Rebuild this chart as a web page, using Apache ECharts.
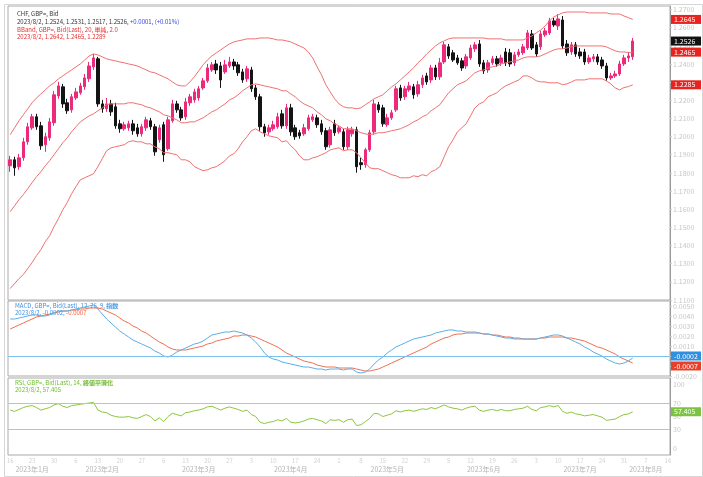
<!DOCTYPE html>
<html><head><meta charset="utf-8">
<script src="https://cdn.jsdelivr.net/npm/echarts/dist/echarts.min.js"></script>
<style>html,body{margin:0;padding:0;background:#fff}#c{width:703px;height:477px}</style>
</head><body><div id="c"></div>
<script>
const opens=[1.1839,1.1872,1.1834,1.1883,1.1971,1.2048,1.2109,1.2059,1.1955,1.1993,
1.2076,1.2224,1.2274,1.2186,1.2147,1.2213,1.2241,1.2274,1.2318,1.2384,
1.2428,1.2180,1.2153,1.2180,1.2164,1.2070,1.2043,1.2048,1.2070,1.2048,
1.2015,1.2048,1.2087,1.2054,1.1982,1.2065,1.1933,1.2087,1.2180,1.2147,
1.2109,1.2186,1.2202,1.2213,1.2268,1.2307,1.2367,1.2400,1.2389,1.2356,
1.2389,1.2411,1.2395,1.2356,1.2318,1.2367,1.2268,1.2219,1.2054,1.2026,
1.2043,1.2054,1.2125,1.2059,1.2158,1.2048,1.2021,1.2015,1.2043,1.2092,
1.2103,1.2070,1.2032,1.1955,1.2070,1.2026,1.2026,1.1944,1.2015,1.2037,
1.1856,1.1845,1.1927,1.2026,1.2175,1.2158,1.2065,1.2103,1.2147,1.2268,
1.2219,1.2257,1.2274,1.2235,1.2285,1.2334,1.2312,1.2378,1.2329,1.2411,
1.2494,1.2461,1.2433,1.2417,1.2389,1.2433,1.2483,1.2510,1.2406,1.2367,
1.2406,1.2428,1.2406,1.2466,1.2461,1.2406,1.2450,1.2461,1.2488,1.2565,
1.2505,1.2494,1.2560,1.2571,1.2637,1.2609,1.2642,1.2510,1.2466,1.2505,
1.2466,1.2466,1.2411,1.2428,1.2439,1.2422,1.2389,1.2323,1.2334,1.2345,
1.2400,1.2433,1.2439];
const closes=[1.1872,1.1828,1.1883,1.1971,1.2054,1.2109,1.2054,1.1949,1.1999,1.2081,
1.2230,1.2279,1.2180,1.2142,1.2219,1.2246,1.2279,1.2323,1.2389,1.2433,
1.2180,1.2153,1.2180,1.2136,1.2059,1.2043,1.2065,1.2070,1.2032,1.2015,
1.2054,1.2092,1.2054,1.1916,1.2048,1.1900,1.2092,1.2180,1.2147,1.2103,
1.2191,1.2219,1.2246,1.2263,1.2307,1.2378,1.2395,1.2367,1.2312,1.2395,
1.2411,1.2389,1.2351,1.2312,1.2373,1.2263,1.2219,1.2054,1.2021,1.2048,
1.2065,1.2109,1.2059,1.2158,1.2026,1.1999,1.2004,1.2048,1.2103,1.2109,
1.2065,1.2026,1.1944,1.2037,1.2021,1.2048,1.1944,1.2037,1.2037,1.1834,
1.1845,1.1927,1.2021,1.2180,1.2147,1.2070,1.2103,1.2131,1.2263,1.2213,
1.2263,1.2279,1.2230,1.2285,1.2323,1.2301,1.2378,1.2329,1.2406,1.2505,
1.2444,1.2422,1.2406,1.2378,1.2439,1.2488,1.2505,1.2400,1.2362,1.2406,
1.2428,1.2400,1.2433,1.2406,1.2400,1.2450,1.2466,1.2494,1.2571,1.2488,
1.2455,1.2565,1.2582,1.2637,1.2615,1.2648,1.2499,1.2461,1.2505,1.2455,
1.2444,1.2411,1.2433,1.2439,1.2411,1.2389,1.2323,1.2334,1.2345,1.2400,
1.2433,1.2444,1.2526];
const highs=[1.1894,1.1889,1.1905,1.1993,1.2076,1.2125,1.2125,1.2081,1.2021,1.2103,
1.2252,1.2301,1.2290,1.2208,1.2235,1.2268,1.2296,1.2345,1.2411,1.2455,
1.2439,1.2202,1.2213,1.2202,1.2186,1.2092,1.2081,1.2087,1.2092,1.2070,
1.2070,1.2109,1.2103,1.2070,1.2065,1.2081,1.2109,1.2202,1.2197,1.2164,
1.2213,1.2235,1.2263,1.2279,1.2323,1.2400,1.2411,1.2422,1.2411,1.2422,
1.2439,1.2428,1.2411,1.2373,1.2389,1.2384,1.2285,1.2235,1.2070,1.2065,
1.2087,1.2131,1.2147,1.2180,1.2180,1.2065,1.2037,1.2070,1.2120,1.2125,
1.2120,1.2092,1.2048,1.2054,1.2092,1.2059,1.2043,1.2054,1.2054,1.2054,
1.1883,1.1938,1.2037,1.2202,1.2191,1.2175,1.2125,1.2147,1.2279,1.2285,
1.2279,1.2301,1.2290,1.2307,1.2340,1.2351,1.2395,1.2395,1.2433,1.2521,
1.2510,1.2477,1.2450,1.2433,1.2455,1.2505,1.2521,1.2532,1.2422,1.2422,
1.2444,1.2444,1.2450,1.2488,1.2483,1.2466,1.2483,1.2510,1.2587,1.2587,
1.2521,1.2582,1.2598,1.2653,1.2653,1.2675,1.2664,1.2532,1.2521,1.2521,
1.2488,1.2483,1.2450,1.2455,1.2455,1.2439,1.2406,1.2351,1.2362,1.2417,
1.2450,1.2466,1.2543];
const lows=[1.1806,1.1784,1.1817,1.1867,1.1955,1.2037,1.2037,1.1927,1.1916,1.1977,
1.2059,1.2208,1.2158,1.2125,1.2131,1.2202,1.2230,1.2257,1.2301,1.2367,
1.2164,1.2131,1.2136,1.2114,1.2043,1.2021,1.2032,1.2032,1.2010,1.1999,
1.1999,1.2032,1.2037,1.1894,1.1966,1.1861,1.1922,1.2076,1.2131,1.2087,
1.2092,1.2169,1.2186,1.2197,1.2257,1.2296,1.2356,1.2345,1.2268,1.2345,
1.2378,1.2367,1.2334,1.2296,1.2301,1.2246,1.2202,1.2032,1.1999,1.2010,
1.2032,1.2043,1.2043,1.2043,1.2004,1.1982,1.1988,1.2004,1.2032,1.2081,
1.2048,1.2010,1.1927,1.1938,1.2004,1.2015,1.1927,1.1927,1.1999,1.1801,
1.1817,1.1828,1.1916,1.2010,1.2131,1.2054,1.2054,1.2092,1.2136,1.2197,
1.2202,1.2246,1.2208,1.2219,1.2268,1.2285,1.2296,1.2312,1.2312,1.2400,
1.2428,1.2411,1.2395,1.2362,1.2373,1.2422,1.2466,1.2384,1.2345,1.2351,
1.2395,1.2384,1.2389,1.2389,1.2384,1.2389,1.2439,1.2450,1.2477,1.2477,
1.2439,1.2477,1.2549,1.2560,1.2604,1.2587,1.2483,1.2444,1.2450,1.2439,
1.2428,1.2395,1.2400,1.2411,1.2395,1.2373,1.2307,1.2312,1.2323,1.2334,
1.2389,1.2411,1.2422];
const bbUpper=[1.2010,1.2048,1.2087,1.2120,1.2153,1.2186,1.2213,1.2235,1.2257,1.2279,
1.2296,1.2318,1.2334,1.2351,1.2367,1.2384,1.2400,1.2422,1.2444,1.2455,
1.2450,1.2439,1.2428,1.2422,1.2417,1.2411,1.2406,1.2400,1.2395,1.2389,
1.2378,1.2367,1.2356,1.2351,1.2340,1.2329,1.2318,1.2301,1.2285,1.2279,
1.2279,1.2301,1.2329,1.2362,1.2395,1.2422,1.2444,1.2461,1.2477,1.2494,
1.2510,1.2521,1.2527,1.2532,1.2538,1.2538,1.2538,1.2543,1.2543,1.2543,
1.2538,1.2532,1.2532,1.2527,1.2521,1.2510,1.2499,1.2488,1.2466,1.2433,
1.2384,1.2340,1.2285,1.2246,1.2208,1.2180,1.2164,1.2158,1.2158,1.2153,
1.2158,1.2175,1.2191,1.2208,1.2219,1.2230,1.2252,1.2274,1.2290,1.2312,
1.2334,1.2356,1.2378,1.2406,1.2428,1.2455,1.2477,1.2499,1.2516,1.2527,
1.2538,1.2543,1.2543,1.2543,1.2543,1.2543,1.2543,1.2543,1.2543,1.2538,
1.2538,1.2538,1.2538,1.2532,1.2532,1.2532,1.2532,1.2532,1.2543,1.2554,
1.2571,1.2587,1.2609,1.2637,1.2659,1.2670,1.2681,1.2686,1.2686,1.2686,
1.2686,1.2686,1.2681,1.2681,1.2681,1.2681,1.2681,1.2675,1.2675,1.2675,
1.2664,1.2655,1.2645];
const bbMiddle=[1.1586,1.1619,1.1652,1.1680,1.1713,1.1746,1.1779,1.1806,1.1839,1.1867,
1.1900,1.1933,1.1966,1.1993,1.2026,1.2054,1.2081,1.2098,1.2114,1.2125,
1.2142,1.2158,1.2175,1.2180,1.2180,1.2180,1.2180,1.2186,1.2186,1.2180,
1.2175,1.2164,1.2158,1.2147,1.2136,1.2120,1.2114,1.2103,1.2092,1.2076,
1.2076,1.2081,1.2081,1.2092,1.2103,1.2120,1.2136,1.2147,1.2164,1.2180,
1.2202,1.2213,1.2230,1.2252,1.2268,1.2285,1.2290,1.2285,1.2279,1.2274,
1.2268,1.2263,1.2252,1.2252,1.2235,1.2219,1.2197,1.2180,1.2169,1.2158,
1.2136,1.2120,1.2098,1.2087,1.2070,1.2059,1.2043,1.2043,1.2043,1.2032,
1.2021,1.2015,1.2010,1.2015,1.2021,1.2021,1.2026,1.2032,1.2037,1.2043,
1.2054,1.2065,1.2081,1.2092,1.2109,1.2120,1.2142,1.2158,1.2175,1.2208,
1.2241,1.2263,1.2285,1.2296,1.2307,1.2329,1.2351,1.2362,1.2367,1.2378,
1.2384,1.2389,1.2400,1.2406,1.2411,1.2417,1.2422,1.2433,1.2439,1.2439,
1.2439,1.2444,1.2455,1.2466,1.2477,1.2483,1.2483,1.2488,1.2494,1.2499,
1.2499,1.2499,1.2499,1.2499,1.2499,1.2499,1.2494,1.2483,1.2472,1.2466,
1.2466,1.2463,1.2465];
const bbLower=[1.1163,1.1190,1.1218,1.1240,1.1273,1.1306,1.1344,1.1377,1.1421,1.1454,
1.1504,1.1548,1.1597,1.1636,1.1685,1.1724,1.1762,1.1773,1.1784,1.1795,
1.1834,1.1878,1.1922,1.1938,1.1944,1.1949,1.1955,1.1971,1.1977,1.1971,
1.1971,1.1960,1.1960,1.1944,1.1933,1.1911,1.1911,1.1905,1.1900,1.1872,
1.1872,1.1861,1.1834,1.1823,1.1812,1.1817,1.1828,1.1834,1.1850,1.1867,
1.1894,1.1905,1.1933,1.1971,1.1999,1.2032,1.2043,1.2026,1.2015,1.2004,
1.1999,1.1993,1.1971,1.1977,1.1949,1.1927,1.1894,1.1872,1.1872,1.1883,
1.1889,1.1900,1.1911,1.1927,1.1933,1.1938,1.1922,1.1927,1.1927,1.1911,
1.1883,1.1856,1.1828,1.1823,1.1823,1.1812,1.1801,1.1790,1.1784,1.1773,
1.1773,1.1773,1.1784,1.1779,1.1790,1.1784,1.1806,1.1817,1.1834,1.1889,
1.1944,1.1982,1.2026,1.2048,1.2070,1.2114,1.2158,1.2180,1.2191,1.2219,
1.2230,1.2241,1.2263,1.2279,1.2290,1.2301,1.2312,1.2334,1.2334,1.2323,
1.2307,1.2301,1.2301,1.2296,1.2296,1.2296,1.2285,1.2290,1.2301,1.2312,
1.2312,1.2312,1.2318,1.2318,1.2318,1.2318,1.2307,1.2290,1.2268,1.2257,
1.2270,1.2275,1.2285];
const macdLine=[0.0037,0.0037,0.0038,0.0039,0.0040,0.0041,0.0041,0.0040,0.0040,0.0041,
0.0043,0.0045,0.0045,0.0045,0.0046,0.0047,0.0048,0.0049,0.0050,0.0051,
0.0047,0.0042,0.0037,0.0033,0.0029,0.0025,0.0022,0.0019,0.0016,0.0014,
0.0012,0.0010,0.0008,0.0005,0.0003,0.0000,-0.0001,0.0001,0.0004,0.0006,
0.0008,0.0010,0.0012,0.0013,0.0015,0.0018,0.0021,0.0022,0.0023,0.0024,
0.0024,0.0025,0.0024,0.0023,0.0021,0.0018,0.0014,0.0009,0.0003,-0.0001,
-0.0003,-0.0004,-0.0006,-0.0007,-0.0008,-0.0009,-0.0010,-0.0011,-0.0011,-0.0012,
-0.0013,-0.0013,-0.0014,-0.0013,-0.0013,-0.0013,-0.0014,-0.0013,-0.0013,-0.0016,
-0.0017,-0.0016,-0.0013,-0.0008,-0.0004,-0.0001,0.0003,0.0006,0.0009,0.0011,
0.0013,0.0015,0.0017,0.0018,0.0019,0.0020,0.0021,0.0023,0.0024,0.0025,
0.0026,0.0026,0.0025,0.0025,0.0024,0.0024,0.0024,0.0023,0.0022,0.0022,
0.0021,0.0020,0.0019,0.0018,0.0018,0.0017,0.0017,0.0017,0.0017,0.0017,
0.0017,0.0018,0.0019,0.0020,0.0021,0.0021,0.0020,0.0018,0.0016,0.0014,
0.0012,0.0009,0.0007,0.0004,0.0002,0.0000,-0.0003,-0.0005,-0.0007,-0.0008,
-0.0007,-0.0005,-0.0002];
const macdSignal=[0.0027,0.0029,0.0031,0.0033,0.0035,0.0037,0.0039,0.0040,0.0041,0.0042,
0.0043,0.0044,0.0045,0.0045,0.0046,0.0046,0.0047,0.0047,0.0048,0.0048,
0.0048,0.0047,0.0045,0.0043,0.0041,0.0038,0.0035,0.0033,0.0030,0.0028,
0.0025,0.0023,0.0020,0.0017,0.0014,0.0012,0.0009,0.0007,0.0006,0.0006,
0.0006,0.0007,0.0008,0.0009,0.0010,0.0012,0.0013,0.0015,0.0016,0.0017,
0.0018,0.0020,0.0020,0.0021,0.0021,0.0020,0.0019,0.0017,0.0015,0.0013,
0.0011,0.0009,0.0006,0.0003,0.0001,-0.0001,-0.0003,-0.0005,-0.0006,-0.0007,
-0.0009,-0.0010,-0.0011,-0.0011,-0.0011,-0.0012,-0.0012,-0.0012,-0.0012,-0.0013,
-0.0014,-0.0015,-0.0015,-0.0014,-0.0013,-0.0011,-0.0009,-0.0007,-0.0005,-0.0003,
-0.0001,0.0001,0.0003,0.0005,0.0007,0.0009,0.0012,0.0014,0.0016,0.0018,
0.0019,0.0021,0.0022,0.0022,0.0023,0.0023,0.0023,0.0023,0.0022,0.0022,
0.0021,0.0021,0.0020,0.0019,0.0019,0.0018,0.0018,0.0017,0.0017,0.0017,
0.0017,0.0018,0.0018,0.0019,0.0019,0.0019,0.0019,0.0018,0.0018,0.0017,
0.0016,0.0015,0.0013,0.0011,0.0009,0.0008,0.0006,0.0004,0.0002,-0.0001,
-0.0003,-0.0005,-0.0007];
const rsi=[60,58,61,64,66,67,64,60,62,64,
68,70,66,64,67,68,69,70,71,72,
60,57,56,52,50,49,49,50,48,47,
50,53,50,43,48,42,50,55,53,51,
56,57,59,60,62,65,66,63,60,63,
65,63,61,58,60,53,50,41,39,41,
42,45,43,47,41,40,41,43,46,47,
45,43,39,45,44,45,41,45,46,36,
37,42,47,55,54,50,52,54,59,57,
59,60,58,60,62,61,64,62,65,68,
65,63,62,60,63,65,66,60,58,60,
61,59,61,59,59,61,62,63,66,61,
59,64,65,67,65,67,58,55,57,54,
53,51,52,53,51,49,44,45,46,50,
53,54,57.405];
const rsiLevels=[70,30];
const firstDate=[2023,0,16];
const blankBars=8;

// trading-day categories (weekdays)
const cats=[];
{const d=new Date(Date.UTC(firstDate[0],firstDate[1],firstDate[2]));
 while(cats.length<opens.length+blankBars){const wd=d.getUTCDay(); if(wd!==0&&wd!==6) cats.push(d.toISOString().slice(0,10)); d.setUTCDate(d.getUTCDate()+1);}}
const monthCenters=new Set();
{let s=0; for(let i=1;i<=cats.length;i++){ if(i===cats.length||cats[i].slice(0,7)!==cats[s].slice(0,7)){monthCenters.add(Math.floor((s+i-1)/2)); s=i;} }}

const N=opens.length, last=N-1;
const FF='"Noto Sans CJK JP","Noto Sans",sans-serif';
const candles=opens.map((o,i)=>[o,closes[i],lows[i],highs[i]]);
const PINK='#ec2a7c', BB='#f07070', BLUE='#5aaee8', ORANGE='#f07050', GREEN='#8cc63f';

function box(val,bg,digits,shift){
  return {silent:true,symbol:['none','none'],animation:false,precision:digits,
    lineStyle:{color:'rgba(255,255,255,0)',width:0,opacity:1},
    emphasis:{disabled:true},
    label:{show:true,position:'end',distance:1,formatter:p=>Number(p.value).toFixed(digits),
      backgroundColor:bg,color:'#fff',fontSize:7,fontFamily:FF,padding:[1,3],width:24,opacity:1,offset:[0,shift||0]},
    data:[{yAxis:val}]};
}
const hiddenX=(g)=>({type:'category',gridIndex:g,data:cats,boundaryGap:true,
  axisLine:{show:false},axisTick:{show:false},axisLabel:{show:false},splitLine:{show:false}});
const yLab={fontSize:7,color:'#c6c6c6',margin:3,fontFamily:FF};

const chart=echarts.init(document.getElementById('c'),null,{renderer:'canvas'});
chart.setOption({
  animation:false,
  backgroundColor:'#fff',
  grid:[
    {left:8,right:33,top:6,height:294,show:true,borderColor:'#aaa',borderWidth:1},
    {left:8,right:33,top:301,height:75,show:true,borderColor:'#aaa',borderWidth:1},
    {left:8,right:33,top:378,height:77,show:true,borderColor:'#aaa',borderWidth:1}
  ],
  xAxis:[hiddenX(0),hiddenX(1),
    {type:'category',gridIndex:2,data:cats,boundaryGap:true,axisLine:{show:false},axisTick:{show:false},splitLine:{show:false},
     axisLabel:{fontSize:6,color:'#d2d2d2',margin:3,fontFamily:FF,
       interval:(i,v)=>new Date(v+'T00:00:00Z').getUTCDay()===1,formatter:v=>String(+v.slice(8,10))}},
    {type:'category',gridIndex:2,data:cats,boundaryGap:true,position:'bottom',axisLine:{show:false},axisTick:{show:false},splitLine:{show:false},
     axisLabel:{fontSize:7,color:'#b4b4b4',margin:11,fontFamily:FF,
       interval:(i)=>monthCenters.has(i),formatter:v=>v.slice(0,4)+'年'+(+v.slice(5,7))+'月'}}
  ],
  yAxis:[
    {type:'value',gridIndex:0,position:'right',min:1.11,max:1.2719,interval:0.01,
     axisLine:{show:true,lineStyle:{color:'#999'}},axisTick:{show:true,length:2,lineStyle:{color:'#ccc'}},
     splitLine:{show:false},axisLabel:Object.assign({formatter:v=>v.toFixed(4),showMaxLabel:false},yLab)},
    {type:'value',gridIndex:1,position:'right',min:-0.002,max:0.0055,interval:0.001,
     axisLine:{show:true,lineStyle:{color:'#999'}},axisTick:{show:true,length:2,lineStyle:{color:'#ccc'}},
     splitLine:{show:false},axisLabel:Object.assign({formatter:v=>v.toFixed(4),showMaxLabel:false},yLab)},
    {type:'value',gridIndex:2,position:'right',min:-10,max:110,interval:10,
     axisLine:{show:true,lineStyle:{color:'#999'}},axisTick:{show:false},
     splitLine:{show:false},axisLabel:Object.assign({formatter:v=>([0,30,50,70,100].includes(v)?String(v):'')},yLab)}
  ],
  graphic:[
    {type:'rect',left:2,top:2,shape:{width:698,height:472},style:{fill:'none',stroke:'#d6d6d6',lineWidth:1},silent:true},
    {type:'text',left:17,top:11,silent:true,style:{text:'CHF, GBP=, Bid',fill:'#333',fontSize:6,fontFamily:FF}},
    {type:'text',left:17,top:19,silent:true,style:{text:'{k|2023/8/2, 1.2524, 1.2531, 1.2517, 1.2526, }{b|+0.0001, (+0.01%)}',
      rich:{k:{fill:'#333',fontSize:6,fontFamily:FF},b:{fill:'#3344dd',fontSize:6,fontFamily:FF}}}},
    {type:'text',left:17,top:27,silent:true,style:{text:'BBand, GBP=, Bid(Last), 20, 単純, 2.0',fill:'#e23030',fontSize:6,fontFamily:FF}},
    {type:'text',left:17,top:34,silent:true,style:{text:'2023/8/2, 1.2642, 1.2465, 1.2289',fill:'#e23030',fontSize:6,fontFamily:FF}},
    {type:'text',left:15,top:303,silent:true,style:{text:'{k|MACD, GBP=, Bid(Last), 12, 26, 9, }{h|指数}',
      rich:{k:{fill:'#3d8fe0',fontSize:6,fontFamily:FF},h:{fill:'#3d8fe0',backgroundColor:'#cfe6fb',fontSize:6,fontFamily:FF}}}},
    {type:'text',left:15,top:310,silent:true,style:{text:'{k|2023/8/2, -0.0002, }{r|-0.0007}',
      rich:{k:{fill:'#3d8fe0',fontSize:6,fontFamily:FF},r:{fill:'#ef5b3a',fontSize:6,fontFamily:FF}}}},
    {type:'text',left:15,top:380,silent:true,style:{text:'{k|RSI, GBP=, Bid(Last), 14, }{h|終値平滑化}',
      rich:{k:{fill:'#6cbf2a',fontSize:6,fontFamily:FF},h:{fill:'#5aa81f',backgroundColor:'#e2f3cf',fontSize:6,fontFamily:FF}}}},
    {type:'text',left:15,top:387,silent:true,style:{text:'2023/8/2, 57.405',fill:'#6cbf2a',fontSize:6,fontFamily:FF}}
  ],
  series:[
    {type:'candlestick',xAxisIndex:0,yAxisIndex:0,data:candles,barWidth:3,
     itemStyle:{color:PINK,color0:'#141414',borderColor:PINK,borderColor0:'#141414',borderWidth:1},
     markLine:box(closes[last],'#111',4)},
    {type:'line',xAxisIndex:0,yAxisIndex:0,data:bbUpper,showSymbol:false,lineStyle:{color:BB,width:1},markLine:box(bbUpper[last],'#e8231f',4)},
    {type:'line',xAxisIndex:0,yAxisIndex:0,data:bbMiddle,showSymbol:false,lineStyle:{color:BB,width:1},markLine:box(bbMiddle[last],'#e8231f',4)},
    {type:'line',xAxisIndex:0,yAxisIndex:0,data:bbLower,showSymbol:false,lineStyle:{color:BB,width:1},markLine:box(bbLower[last],'#e8231f',4)},
    {type:'line',xAxisIndex:1,yAxisIndex:1,data:macdSignal,showSymbol:false,lineStyle:{color:ORANGE,width:1},markLine:box(macdSignal[last],'#e8402a',4,3)},
    {type:'line',xAxisIndex:1,yAxisIndex:1,data:macdLine,showSymbol:false,lineStyle:{color:BLUE,width:1},
     markLine:{silent:true,symbol:['none','none'],label:{show:false},lineStyle:{color:'#7cc0ee',width:1,type:'solid'},data:[{yAxis:0}]}},
    {type:'line',xAxisIndex:1,yAxisIndex:1,data:macdLine.map(()=>null),showSymbol:false,markLine:box(macdLine[last],'#2f8fe0',4,-2)},
    {type:'line',xAxisIndex:3,yAxisIndex:2,data:rsi,showSymbol:false,lineStyle:{color:GREEN,width:1},
     markLine:{silent:true,symbol:['none','none'],label:{show:false},lineStyle:{color:'#a8dc6c',width:1,type:'solid'},data:rsiLevels.map(v=>({yAxis:v}))}},
    {type:'line',xAxisIndex:3,yAxisIndex:2,data:rsi.map(()=>null),showSymbol:false,markLine:box(rsi[last],'#7dc242',3)}
  ]
});
</script></body></html>
